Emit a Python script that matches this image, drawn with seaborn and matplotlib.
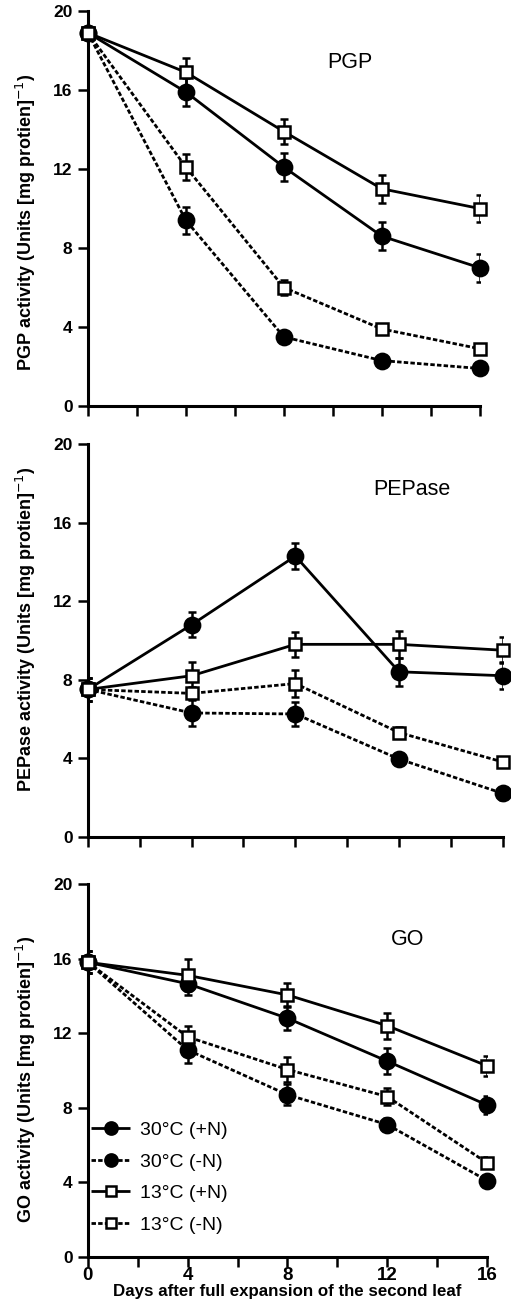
import numpy as np
import pandas as pd
import matplotlib
matplotlib.use('Agg')
import matplotlib.pyplot as plt
import seaborn as sns

# data
days = [0, 4, 8, 12, 16]
labels = ['30°C (+N)', '30°C (-N)', '13°C (+N)', '13°C (-N)']

pgp_30p = [18.9, 15.9, 12.1, 8.6, 7.0]
pgp_30m = [18.9, 9.4, 3.5, 2.3, 1.9]
pgp_13p = [18.9, 16.9, 13.9, 11.0, 10.0]
pgp_13m = [18.9, 12.1, 6.0, 3.9, 2.9]
pgp_err_30p = [0.3, 0.7, 0.7, 0.7, 0.7]
pgp_err_30m = [0.3, 0.7, 0.3, 0.2, 0.2]
pgp_err_13p = [0.3, 0.7, 0.65, 0.7, 0.7]
pgp_err_13m = [0.3, 0.65, 0.4, 0.2, 0.25]

pep_30p = [7.5, 10.8, 14.3, 8.4, 8.2]
pep_30m = [7.5, 6.3, 6.25, 3.95, 2.2]
pep_13p = [7.5, 8.2, 9.8, 9.8, 9.5]
pep_13m = [7.5, 7.3, 7.8, 5.3, 3.8]
pep_err_30p = [0.6, 0.65, 0.65, 0.7, 0.7]
pep_err_30m = [0.6, 0.65, 0.6, 0.3, 0.35]
pep_err_13p = [0.6, 0.7, 0.65, 0.7, 0.65]
pep_err_13m = [0.6, 0.3, 0.7, 0.3, 0.2]

go_30p = [15.8, 14.65, 12.8, 10.5, 8.15]
go_30m = [15.8, 11.1, 8.7, 7.1, 4.1]
go_13p = [15.8, 15.1, 14.05, 12.4, 10.25]
go_13m = [15.8, 11.8, 10.05, 8.6, 5.05]
go_err_30p = [0.6, 0.6, 0.65, 0.7, 0.5]
go_err_30m = [0.6, 0.7, 0.55, 0.35, 0.3]
go_err_13p = [0.6, 0.85, 0.65, 0.7, 0.55]
go_err_13m = [0.6, 0.6, 0.65, 0.45, 0.3]

panels = [
    ('PGP', [pgp_30p, pgp_30m, pgp_13p, pgp_13m],
     [pgp_err_30p, pgp_err_30m, pgp_err_13p, pgp_err_13m], (10.7, 17.4)),
    ('PEPase', [pep_30p, pep_30m, pep_13p, pep_13m],
     [pep_err_30p, pep_err_30m, pep_err_13p, pep_err_13m], (12.5, 17.7)),
    ('GO', [go_30p, go_30m, go_13p, go_13m],
     [go_err_30p, go_err_30m, go_err_13p, go_err_13m], (12.8, 17.0)),
]

sns.set_style('ticks')
plt.rcParams['font.family'] = ['Liberation Sans', 'DejaVu Sans']
plt.rcParams.update({'text.color': 'black', 'axes.labelcolor': 'black',
                     'xtick.color': 'black', 'ytick.color': 'black',
                     'axes.edgecolor': 'black'})

dash = (0, (1.6, 0.8))
styles = [('o', 'black', (0, ())), ('o', 'black', dash),
          ('s', 'white', (0, ())), ('s', 'white', dash)]

fig = plt.figure(figsize=(5.11, 13.03), dpi=100)
boxes = [[0.172, 0.6884, 0.767, 0.3031],
         [0.172, 0.358, 0.812, 0.301],
         [0.172, 0.0353, 0.781, 0.2863]]
ylab_y = [0.466, 0.528, 0.475]
ylab_x = [-0.128, -0.121, -0.125]

for i, (name, series, errs, tpos) in enumerate(panels):
    ax = fig.add_axes(boxes[i])
    for vals, err, lab, (mk, fc, ls) in zip(series, errs, labels, styles):
        ax.errorbar(days, vals, yerr=err, fmt='none', ecolor='black',
                    elinewidth=1.8, capsize=2.7, capthick=1.8, zorder=2)
        sns.lineplot(x=days, y=vals, ax=ax, color='black', linewidth=2,
                     linestyle=ls, marker=mk, markersize=11 if mk == 'o' else 8.5,
                     markerfacecolor=fc, markeredgecolor='black',
                     markeredgewidth=1.8, label=lab, zorder=3, clip_on=False)
    ax.set_xlim(0, 16)
    ax.set_ylim(0, 20)
    ax.set_xticks([0, 4, 8, 12, 16])
    ax.set_xticks([2, 6, 10, 14], minor=True)
    ax.set_yticks([0, 4, 8, 12, 16, 20])
    ax.tick_params(axis='both', which='both', direction='out', length=7,
                   width=1.8, pad=4, color='black')
    ax.tick_params(axis='y', labelsize=12.5)
    ax.tick_params(axis='x', labelsize=13.5, pad=0.5)
    for lbl in ax.get_yticklabels() + ax.get_xticklabels():
        lbl.set_fontweight('bold')
    sns.despine(ax=ax)
    for sp in ['left', 'bottom']:
        ax.spines[sp].set_linewidth(2.2)
        ax.spines[sp].set_color('black')
    ax.set_ylabel(name + ' activity (Units [mg protien]$^{-1}$)',
                  fontsize=13, fontweight='bold')
    ax.yaxis.set_label_coords(ylab_x[i], ylab_y[i])
    ax.text(tpos[0], tpos[1], name, ha='center', va='center', fontsize=15.5)
    if i < 2:
        ax.set_xticklabels([])
        ax.get_legend().remove()
    else:
        ax.set_xlabel('Days after full expansion of the second leaf',
                      fontsize=12.2, fontweight='bold', labelpad=0)
        ax.legend(loc='lower left', bbox_to_anchor=(0.008, 0.062), frameon=False,
                  fontsize=14, handlelength=2.0, handletextpad=0.5,
                  labelspacing=0.72, borderpad=0, borderaxespad=0,
                  markerscale=0.8)

fig.savefig('out.png', dpi=100)
